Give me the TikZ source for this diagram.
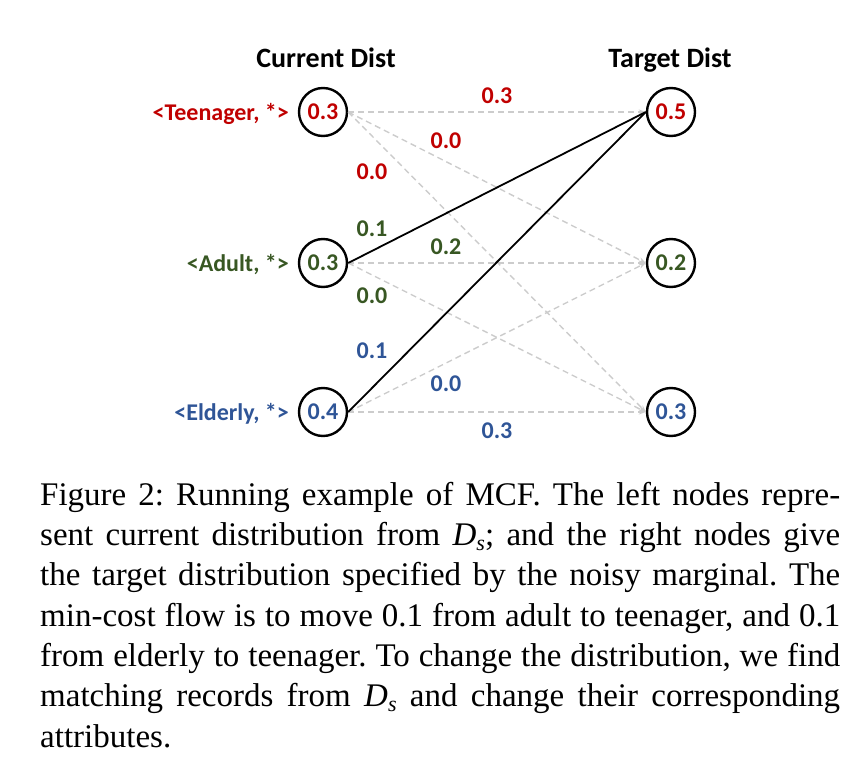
\documentclass[tikz,border=0pt]{standalone}
\usepackage{fontspec}
\setmainfont{Liberation Serif}
\newfontfamily\calib{Carlito}
\usetikzlibrary{arrows.meta}
\definecolor{cred}{HTML}{C00000}
\definecolor{cgreen}{HTML}{385723}
\definecolor{cblue}{HTML}{2F5597}
\definecolor{dgray}{HTML}{CCCCCC}
\newcommand{\Dsub}{{\itshape D}\raisebox{-5pt}{\fontsize{22}{22}\selectfont\itshape s}}
\begin{document}
\frenchspacing
\begin{tikzpicture}[x=1pt,y=-1pt,
  distnode/.style={circle,draw=black,line width=2.4pt,minimum size=48pt,inner sep=0pt,font=\calib\bfseries\fontsize{24}{24}\selectfont},
  title/.style={font=\calib\bfseries\fontsize{28}{28}\selectfont,anchor=base},
  rowlabel/.style={font=\calib\bfseries\fontsize{24}{24}\selectfont,anchor=base east,inner sep=0pt},
  flowlabel/.style={font=\calib\bfseries\fontsize{24}{24}\selectfont,inner sep=0pt},
  flowdash/.style={draw=dgray,line width=1.4pt,dash pattern=on 6pt off 4pt,-{Stealth[length=7pt,width=5pt]}},
  flowsolid/.style={draw=black,line width=1.8pt},
  capline/.style={anchor=base west,inner sep=0pt,font=\fontsize{33}{33}\selectfont}]
\useasboundingbox (0,0) rectangle (843,765);
% titles
\node[title] (tcur) at (326,68) {Current Dist};
\node[title] (ttar) at (670,68) {Target Dist};
% left nodes
\node[distnode,text=cred]   (L1) at (323,112) {0.3};
\node[distnode,text=cgreen] (L2) at (323,263) {0.3};
\node[distnode,text=cblue]  (L3) at (323,412) {0.4};
% right nodes
\node[distnode,text=cred]   (R1) at (671,112) {0.5};
\node[distnode,text=cgreen] (R2) at (671,263) {0.2};
\node[distnode,text=cblue]  (R3) at (671,412) {0.3};
% row labels
\node[rowlabel,text=cred]   (lab1) at (289,121) {<Teenager, *>};
\node[rowlabel,text=cgreen] (lab2) at (289,271) {<Adult, *>};
\node[rowlabel,text=cblue]  (lab3) at (289,420) {<Elderly, *>};
% edges
\draw[flowdash] (L1.east) -- (R1.west);
\draw[flowdash] (L1.east) -- (R2.west);
\draw[flowdash] (L1.east) -- (R3.west);
\draw[flowdash] (L2.east) -- (R2.west);
\draw[flowdash] (L2.east) -- (R3.west);
\draw[flowdash] (L3.east) -- (R2.west);
\draw[flowdash] (L3.east) -- (R3.west);
\draw[flowsolid] (L2.east) -- (R1.west);
\draw[flowsolid] (L3.east) -- (R1.west);
% flow labels
\node[flowlabel,text=cred]   (f11) at (497,96)  {0.3};
\node[flowlabel,text=cred]   (f12) at (446,141) {0.0};
\node[flowlabel,text=cred]   (f13) at (372,172) {0.0};
\node[flowlabel,text=cgreen] (f21) at (372,229) {0.1};
\node[flowlabel,text=cgreen] (f22) at (446,247) {0.2};
\node[flowlabel,text=cgreen] (f23) at (372,296) {0.0};
\node[flowlabel,text=cblue]  (f31) at (372,351) {0.1};
\node[flowlabel,text=cblue]  (f32) at (446,384) {0.0};
\node[flowlabel,text=cblue]  (f33) at (497,431) {0.3};
% caption
\node[capline] (c1) at (40,505)   {\makebox[800pt][s]{Figure 2: Running example of MCF. The left nodes repre-}};
\node[capline] (c2) at (40,545.3) {\makebox[800pt][s]{sent current distribution from \Dsub; and the right nodes give}};
\node[capline] (c3) at (40,585.6) {\makebox[800pt][s]{the target distribution specified by the noisy marginal. The}};
\node[capline] (c4) at (40,626)   {\makebox[800pt][s]{min-cost flow is to move 0.1 from adult to teenager, and 0.1}};
\node[capline] (c5) at (40,666.3) {\makebox[800pt][s]{from elderly to teenager. To change the distribution, we find}};
\node[capline] (c6) at (40,706.6) {\makebox[800pt][s]{matching records from \Dsub{} and change their corresponding}};
\node[capline] (c7) at (40,747)   {attributes.};
\end{tikzpicture}
\end{document}
